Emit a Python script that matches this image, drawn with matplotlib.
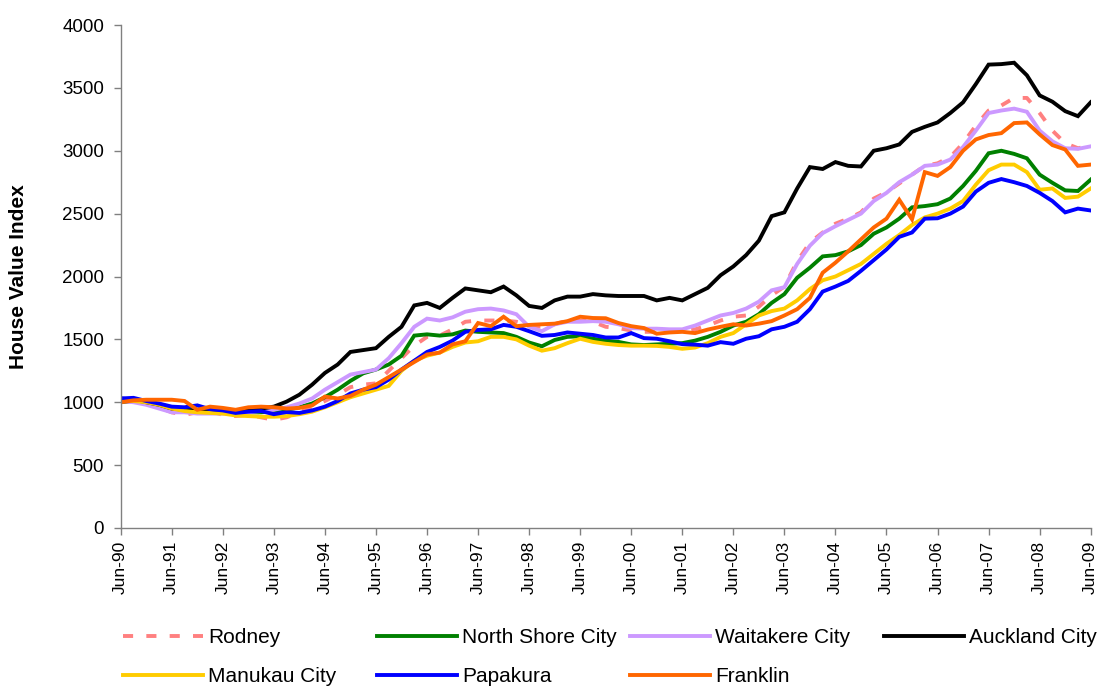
import matplotlib
matplotlib.use("Agg")
import matplotlib.pyplot as plt

plt.rcParams['font.family'] = ['Liberation Sans', 'DejaVu Sans']

# Quarterly dates, Jun-90 .. Jun-09 (labels shown every June)
years = list(range(1990, 2010))
tick_labels = ["Jun-%02d" % (y % 100) for y in years]
n_points = 77

rodney = [1000, 1010, 1000, 960, 920, 900, 920, 930, 900, 890, 900, 880, 860, 880, 920, 960,
          1010, 1060, 1120, 1140, 1150, 1250, 1350, 1450, 1520, 1530, 1580, 1640, 1650, 1650,
          1650, 1640, 1610, 1600, 1620, 1650, 1650, 1640, 1600, 1590, 1570, 1560, 1560, 1560,
          1560, 1580, 1610, 1650, 1680, 1690, 1760, 1850, 1920, 2120, 2270, 2350, 2420, 2460,
          2510, 2620, 2670, 2740, 2810, 2880, 2900, 2950, 3060, 3200, 3320, 3360, 3420, 3420,
          3300, 3160, 3060, 3020, 3040]
north_shore = [1000, 1010, 1000, 980, 960, 950, 940, 940, 930, 930, 920, 920, 930, 940, 960, 990,
               1040, 1100, 1170, 1230, 1260, 1300, 1370, 1530, 1540, 1530, 1540, 1570, 1560, 1555,
               1550, 1520, 1475, 1445, 1495, 1520, 1525, 1505, 1490, 1480, 1460, 1455, 1460, 1465,
               1470, 1490, 1520, 1560, 1610, 1640, 1700, 1790, 1860, 1990, 2070, 2160, 2170, 2200,
               2250, 2340, 2390, 2460, 2550, 2560, 2575, 2620, 2720, 2840, 2980, 3000, 2975, 2940,
               2810, 2745, 2685, 2680, 2770]
waitakere = [1010, 1000, 980, 950, 920, 920, 910, 910, 910, 920, 920, 930, 940, 960, 990, 1030,
             1100, 1160, 1220, 1240, 1260, 1350, 1470, 1600, 1665, 1650, 1675, 1720, 1740, 1745,
             1730, 1700, 1600, 1565, 1620, 1640, 1640, 1645, 1640, 1620, 1590, 1585, 1585, 1580,
             1580, 1610, 1650, 1690, 1710, 1745, 1800, 1890, 1915, 2100, 2245, 2345, 2400, 2450,
             2500, 2600, 2665, 2750, 2810, 2880, 2890, 2930, 3030, 3160, 3300, 3320, 3335, 3310,
             3160, 3075, 3020, 3015, 3035]
auckland = [1030, 1020, 1000, 980, 950, 940, 930, 930, 940, 935, 940, 950, 965, 1005, 1060, 1140,
            1233, 1300, 1400, 1415, 1430, 1520, 1600, 1770, 1790, 1750, 1830, 1905, 1890, 1875,
            1920, 1850, 1766, 1750, 1810, 1840, 1840, 1860, 1850, 1845, 1845, 1845, 1810, 1830,
            1810, 1860, 1910, 2010, 2080, 2170, 2285, 2480, 2510, 2700, 2870, 2855, 2910, 2880,
            2875, 3000, 3020, 3050, 3150, 3190, 3225, 3300, 3385, 3530, 3685, 3689, 3700, 3600,
            3440, 3390, 3315, 3275, 3385]
manukau = [1010, 1010, 1000, 980, 950, 930, 920, 915, 910, 895, 890, 885, 885, 890, 905, 925,
           960, 1000, 1040, 1070, 1100, 1130, 1250, 1330, 1370, 1395, 1440, 1475, 1485, 1520,
           1520, 1500, 1450, 1410, 1430, 1470, 1505, 1480, 1465, 1455, 1450, 1450, 1448, 1440,
           1425, 1435, 1470, 1520, 1550, 1620, 1690, 1725, 1745, 1810, 1900, 1970, 2000, 2050,
           2100, 2180, 2260, 2330, 2410, 2470, 2500, 2540, 2600, 2730, 2845, 2890, 2890, 2830,
           2690, 2700, 2625, 2635, 2700]
papakura = [1030, 1035, 1010, 990, 965, 960, 975, 945, 935, 915, 925, 930, 905, 922, 915, 935,
            965, 1010, 1070, 1100, 1120, 1180, 1260, 1330, 1400, 1440, 1490, 1560, 1575, 1580,
            1615, 1600, 1565, 1528, 1535, 1555, 1545, 1535, 1515, 1515, 1550, 1510, 1505, 1485,
            1462, 1458, 1450, 1478, 1465, 1505, 1525, 1580, 1600, 1640, 1740, 1880, 1920, 1965,
            2045, 2130, 2215, 2315, 2350, 2460, 2463, 2500, 2556, 2675, 2745, 2775, 2750, 2720,
            2665, 2600, 2510, 2540, 2525]
franklin = [1000, 1015, 1020, 1020, 1020, 1010, 940, 965, 955, 940, 960, 965, 960, 950, 955, 975,
            1045, 1030, 1050, 1100, 1140, 1200, 1260, 1320, 1380, 1395, 1460, 1485, 1630, 1605,
            1680, 1605, 1615, 1620, 1625, 1645, 1680, 1670, 1668, 1630, 1605, 1590, 1545, 1555,
            1560, 1550, 1578, 1600, 1620, 1610, 1625, 1645, 1690, 1740, 1830, 2030, 2110, 2200,
            2295, 2390, 2460, 2610, 2455, 2830, 2800, 2870, 3000, 3090, 3125, 3140, 3220, 3225,
            3130, 3045, 3010, 2880, 2890]

series_names = ["Rodney", "North Shore City", "Waitakere City", "Auckland City",
                "Manukau City", "Papakura", "Franklin"]
series_values = [rodney, north_shore, waitakere, auckland, manukau, papakura, franklin]
colors = ["#FF8080", "#008000", "#CC99FF", "#000000", "#FFCC00", "#0000FF", "#FF6600"]

W, H = 1102, 686
fig = plt.figure(figsize=(W / 100, H / 100), dpi=100)
ax = fig.add_axes([120.7 / W, 1 - 528 / H, 970 / W, (528 - 25) / H])

x = list(range(n_points))
LW = 2.8
handles = []
for name, vals, col in zip(series_names, series_values, colors):
    if name == "Rodney":
        ln, = ax.plot(x, vals, color=col, lw=LW, linestyle=(0, (2.6, 3.4)),
                      dash_capstyle='butt', label=name)
    else:
        ln, = ax.plot(x, vals, color=col, lw=LW, solid_joinstyle='miter', label=name)
    handles.append(ln)

ax.set_xlim(0, n_points - 1)
ax.set_ylim(0, 4000)
ax.set_yticks(range(0, 4001, 500))
ax.set_xticks(range(0, n_points, 4))
ax.set_xticklabels(tick_labels, rotation=90, fontsize=12.5)
ax.tick_params(axis='y', labelsize=13.5, length=5, width=1, color='#808080', pad=7)
ax.tick_params(axis='x', length=5, width=1, color='#808080', pad=4)
for s in ['top', 'right']:
    ax.spines[s].set_visible(False)
for s in ['left', 'bottom']:
    ax.spines[s].set_color('#808080')
    ax.spines[s].set_linewidth(1)

ax.set_ylabel("House Value Index", fontsize=15, fontweight='bold')
ax.yaxis.set_label_coords((28 - 120.7) / 970, 0.5)

# Legend: four equally spaced columns, two rows
col_x = [123, 377, 630, 884]
layout = [[0, 4], [1, 5], [2, 6], [3]]
FS_LEG = 15
for cx, idxs in zip(col_x, layout):
    fig.legend(handles=[handles[i] for i in idxs], labels=[series_names[i] for i in idxs],
               loc='upper left', bbox_to_anchor=(cx / W, 1 - 628 / H),
               frameon=False, fontsize=FS_LEG, handlelength=3.85, handletextpad=0.22,
               borderpad=0, borderaxespad=0, labelspacing=0.95)

fig.savefig("out.png", dpi=100)
